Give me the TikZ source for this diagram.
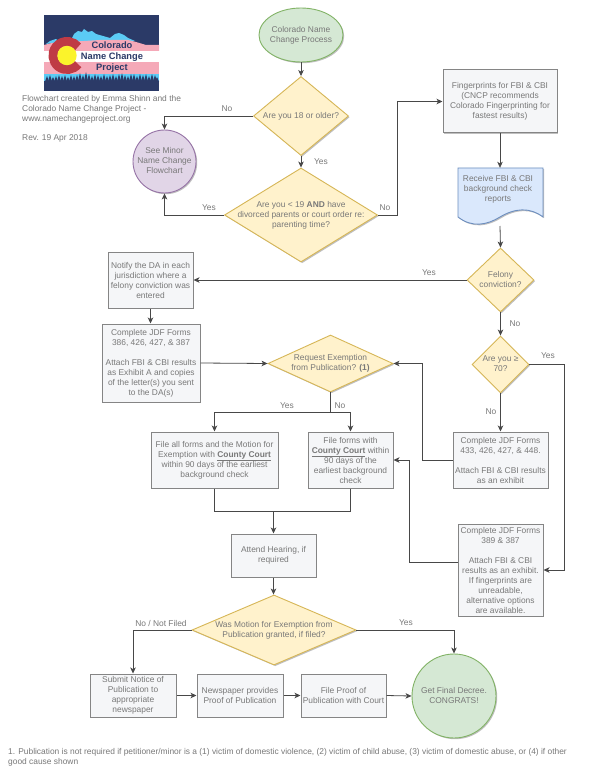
\documentclass[tikz,border=0pt]{standalone}
\usepackage{fontspec}
\setmainfont{Liberation Sans}
\usetikzlibrary{shapes.geometric,arrows.meta,shadows,calc}
\definecolor{txt}{HTML}{787878}
\definecolor{gfill}{HTML}{D5E8D4}\definecolor{gline}{HTML}{82B366}
\definecolor{yfill}{HTML}{FFF2CC}\definecolor{yline}{HTML}{D6B656}
\definecolor{pfill}{HTML}{E1D5E7}\definecolor{pline}{HTML}{9673A6}
\definecolor{bfill}{HTML}{DAE8FC}\definecolor{bline}{HTML}{6C8EBF}
\definecolor{boxfill}{HTML}{F5F6F8}\definecolor{boxline}{HTML}{858585}
\definecolor{conn}{HTML}{484848}
\definecolor{lnavy}{HTML}{2B3A67}\definecolor{lblue}{HTML}{5BCBF5}
\definecolor{lpink}{HTML}{F5A9B8}\definecolor{lred}{HTML}{BF3B45}\definecolor{lyellow}{HTML}{FBF32B}
\newcommand\dlab[1]{\makebox[0pt]{\smash{\raisebox{-2.1pt}{\begin{tabular}[c]{@{}c@{}}#1\end{tabular}}}}}
\tikzset{
  every node/.style={font=\fontsize{8.4}{10}\selectfont,text=txt},
  softshadow/.style={general shadow={shadow xshift=1.2pt,shadow yshift=-1.2pt,fill=black,opacity=.25}},
  boxnode/.style={draw=boxline,line width=1pt,fill=boxfill,rectangle,inner sep=0pt,align=center,softshadow},
  dia/.style={draw=yline,line width=.9pt,fill=yfill,diamond,inner sep=0pt,softshadow},
  startnode/.style={draw=gline,line width=.9pt,fill=gfill,ellipse,inner sep=0pt,softshadow},
  roundnode/.style={circle,line width=.9pt,inner sep=0pt,softshadow},
  conline/.style={draw=conn,line width=.8pt,-{Stealth[length=6pt,width=5.5pt,inset=1.6pt]}},
  joinline/.style={draw=conn,line width=.8pt},
  edgelab/.style={inner sep=0pt}
}
\begin{document}
\begin{tikzpicture}[x=1pt,y=-1pt]
\useasboundingbox (0,0) rectangle (600,778);
\fill[white] (0,0) rectangle (600,778);
% logo
\fill[lnavy] (44,15) rectangle (159,91);
\fill[lblue] (70,42) -- (74,34) -- (78,31) -- (82,32) -- (84,29) -- (88,32) -- (92,31) -- (96,34) -- (103,36) -- (110,38) -- (115,34) -- (119,33) -- (124,35) -- (128,38) -- (135,41) -- cycle;
\fill[lblue] (46,44) -- (50,41) -- (56,39) -- (60,42) -- cycle;
\fill[lpink] (44,45) -- (52,43) -- (100,40) -- (128,40) -- (136,42) -- (146,45) -- (159,45) -- (159,51) -- (44,51) -- cycle;
\fill[white] (44,51) rectangle (159,62);
\fill[lpink] (44,62) rectangle (159,74);
\fill[lblue] (44,74) rectangle (159,81);
\foreach \tx/\ty in {47/76,50/75,53/77,56/76,59/75,62/76,65/75,68/77,71/75,74/76,77/75,80/73,83/75,86/72,89/74,92/76,95/74,98/75,101/76,104/74,107/76,110/75,113/74,116/76,119/74,122/73,125/75,128/76,131/74,134/74,137/76,140/74,143/75,146/74,149/76,152/74,155/75,157/77}
  \fill[lnavy] (\tx-2.2,82) -- (\tx,\ty) -- (\tx+2.2,82) -- cycle;
\draw[lred,line width=9pt] (67,55.5) ++(38:14) arc[start angle=38,end angle=322,radius=14];
\fill[lyellow] (67,55.5) circle[radius=9.7];
\node[font=\fontsize{9.3}{10}\bfseries\selectfont,text=lnavy,inner sep=0pt] (logoa) at (112,45.5) {Colorado};
\node[font=\fontsize{9.3}{10}\bfseries\selectfont,text=lnavy,inner sep=0pt] (logob) at (112,57) {Name Change};
\node[font=\fontsize{9.3}{10}\bfseries\selectfont,text=lnavy,inner sep=0pt] (logoc) at (112,68) {Project};
% notes
\node[anchor=north west,align=left,inner sep=0pt] (credit) at (22,95.5) {Flowchart created by Emma Shinn and the\\Colorado Name Change Project -\\www.namechangeproject.org};
\node[anchor=north west,align=left,inner sep=0pt] (rev) at (22,134) {Rev. 19 Apr 2018};
\node[anchor=north west,align=left,inner sep=0pt] (foot) at (8,748) {1. Publication is not required if petitioner/minor is a (1) victim of domestic violence, (2) victim of child abuse, (3) victim of domestic abuse, or (4) if other\\good cause shown};
% document shape
\fill[black,opacity=.25,shift={(1.2,1.2)}] (458,168) -- (543,168) -- (543,217) .. controls (530,207) and (515,208) .. (500,217) .. controls (487,225) and (472,228) .. (458,217) -- cycle;
\draw[bline,line width=.9pt,fill=bfill] (458,168) -- (543,168) -- (543,217) .. controls (530,207) and (515,208) .. (500,217) .. controls (487,225) and (472,228) .. (458,217) -- cycle;
% nodes
\node[startnode,minimum width=84pt,minimum height=54pt] (start) at (301,35) {\dlab{Colorado Name\\Change Process}};
\node[dia,minimum width=95pt,minimum height=79pt] (d18) at (301,116) {\dlab{Are you 18 or older?}};
\node[dia,minimum width=153pt,minimum height=94pt] (d19) at (301,215) {\dlab{Are you < 19 \textbf{AND} have\\divorced parents or court order re:\\parenting time?}};
\node[roundnode,draw=pline,fill=pfill,minimum size=63pt] (minor) at (164.5,161.5) {\dlab{See Minor\\Name Change\\Flowchart}};
\node[boxnode,minimum width=114pt,minimum height=63pt] (finger) at (500,101.5) {Fingerprints for FBI \& CBI\\(CNCP recommends\\Colorado Fingerprinting for\\fastest results)};
\node[inner sep=0pt,minimum width=85pt,minimum height=42pt,align=center] (doc) at (498,189) {Receive FBI \& CBI\\background check\\reports};
\coordinate (docb) at (500,226);
\node[dia,minimum width=67pt,minimum height=64pt] (dfel) at (500.5,280) {\dlab{Felony\\conviction?}};
\node[dia,minimum width=57pt,minimum height=57pt] (dage) at (500.5,364.5) {\dlab{Are you ≥\\70?}};
\node[boxnode,minimum width=95pt,minimum height=56pt] (b433) at (500.5,460) {Complete JDF Forms\\433, 426, 427, \& 448.\\[10pt]Attach FBI \& CBI results\\as an exhibit};
\node[boxnode,minimum width=85pt,minimum height=92pt] (b389) at (500.5,570) {Complete JDF Forms\\389 \& 387\\[10pt]Attach FBI \& CBI\\results as an exhibit.\\If fingerprints are\\unreadable,\\alternative options\\are available.};
\node[boxnode,minimum width=85pt,minimum height=56pt] (notify) at (150.5,280) {Notify the DA in each\\jurisdiction where a\\felony conviction was\\entered};
\node[boxnode,minimum width=98pt,minimum height=78pt] (b386) at (151,363) {Complete JDF Forms\\386, 426, 427, \& 387\\[10pt]Attach FBI \& CBI results\\as Exhibit A and copies\\of the letter(s) you sent\\to the DA(s)};
\node[dia,minimum width=125pt,minimum height=57pt] (dex) at (330.5,363.5) {\dlab{Request Exemption\\from Publication? \textbf{(1)}}};
\node[boxnode,minimum width=127pt,minimum height=56pt] (fa) at (214.5,460) {File all forms and the Motion for\\Exemption with \underline{\textbf{County Court}}\\within 90 days of the earliest\\background check};
\node[boxnode,minimum width=85pt,minimum height=56pt] (ff) at (350.5,460) {File forms with\\\underline{\textbf{County Court}} within\\90 days of the\\earliest background\\check};
\coordinate (split) at (330.5,412);
\coordinate (join) at (273.5,511);
\node[boxnode,minimum width=85pt,minimum height=43pt] (att) at (273.5,555.5) {Attend Hearing, if\\required};
\node[dia,minimum width=164pt,minimum height=70pt] (dfin) at (274,630) {\dlab{Was Motion for Exemption from\\Publication granted, if filed?}};
\node[boxnode,minimum width=86pt,minimum height=43pt] (sub) at (133,695.5) {Submit Notice of\\Publication to\\appropriate\\newspaper};
\node[boxnode,minimum width=86pt,minimum height=43pt] (news) at (240,695.5) {Newspaper provides\\Proof of Publication};
\node[boxnode,minimum width=85pt,minimum height=43pt] (proof) at (343.5,695.5) {File Proof of\\Publication with Court};
\node[roundnode,draw=gline,fill=gfill,minimum size=84pt] (final) at (454,696) {\dlab{Get Final Decree.\\CONGRATS!}};
% connectors
\draw[conline] (start.south) -- (d18.north);
\draw[conline] (d18.south) -- (d19.north);
\draw[conline] (d18.west) -| (minor.north);
\draw[conline] (d19.west) -| (minor.south);
\draw[conline] (d19.east) -- ++(19,0) |- (finger.west);
\draw[conline] (finger.south) -- (doc.north -| finger.south);
\draw[conline] (docb) -- (dfel.north);
\draw[conline] (dfel.west) -- (notify.east);
\draw[conline] (dfel.south) -- (dage.north);
\draw[conline] (dage.south) -- (b433.north);
\draw[conline] (dage.east) -- ++(35,0) |- (b389.east);
\draw[conline] (b433.west) -- ++(-30,0) |- (dex.east);
\draw[conline] ([yshift=8pt]b389.west) -- ++(-48,0) |- (ff.east);
\draw[conline] (notify.south) -- (b386.north -| notify.south);
\draw[conline] (b386.east) -- (dex.west);
\draw[joinline] (dex.south) -- (split);
\draw[conline] (split) -| (fa.north);
\draw[conline] (split) -| (ff.north);
\draw[joinline] (fa.south) |- (join);
\draw[joinline] (ff.south) |- (join);
\draw[conline] (join) -- (att.north);
\draw[conline] (att.south) -- (dfin.north -| att.south);
\draw[conline] (dfin.west) -| (sub.north);
\draw[conline] (dfin.east) -| (final.north);
\draw[conline] (sub.east) -- (news.west);
\draw[conline] (news.east) -- (proof.west);
\draw[conline] (proof.east) -- (final.west);
% edge labels
\node[edgelab] (l1) at (227,109) {No};
\node[edgelab] (l2) at (209,208) {Yes};
\node[edgelab] (l3) at (321,162) {Yes};
\node[edgelab] (l4) at (385,208) {No};
\node[edgelab] (l5) at (429,273) {Yes};
\node[edgelab] (l6) at (515,324) {No};
\node[edgelab] (l7) at (548,356) {Yes};
\node[edgelab] (l8) at (491,412) {No};
\node[edgelab] (l9) at (287,406) {Yes};
\node[edgelab] (l10) at (340,406) {No};
\node[edgelab] (l11) at (161,623) {No / Not Filed};
\node[edgelab] (l12) at (406,623) {Yes};
\end{tikzpicture}
\end{document}
